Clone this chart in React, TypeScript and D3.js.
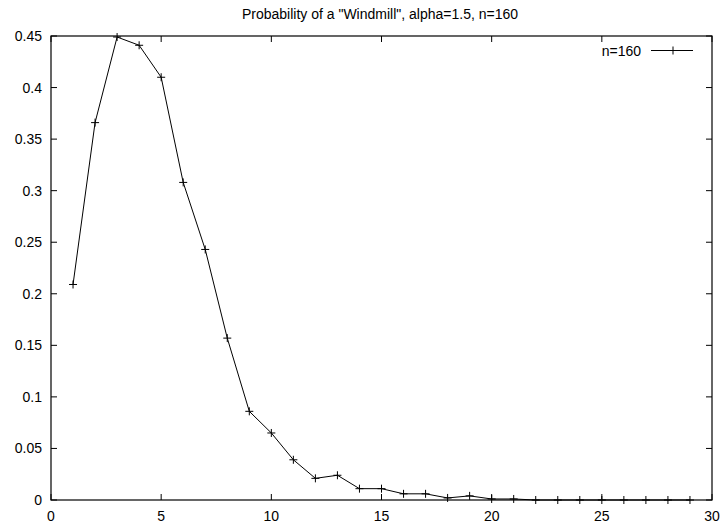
import React from "react";
import * as d3 from "d3";

const xs = [1,2,3,4,5,6,7,8,9,10,11,12,13,14,15,16,17,18,19,20,21,22,23,24,25,26,27,28,29];
const ys = [0.209,0.366,0.449,0.441,0.410,0.308,0.243,0.157,0.086,0.065,0.039,0.021,0.024,0.011,0.011,0.006,0.006,0.002,0.004,0.001,0.001,0,0,0,0,0,0,0,0];
const xTicks = [0,5,10,15,20,25,30];
const yTicks = [0,0.05,0.1,0.15,0.2,0.25,0.3,0.35,0.4,0.45];
const title = 'Probability of a "Windmill", alpha=1.5, n=160';
const seriesName = "n=160";

export default function App() {
  const W = 722, H = 525;
  const L = 51, R = 712, T = 36, B = 500;
  const x = d3.scaleLinear().domain([0, 30]).range([L, R]);
  const y = d3.scaleLinear().domain([0, 0.45]).range([B, T]);
  const line = d3.line<number>().x((_, i) => x(xs[i])).y((d) => y(d));
  const tl = 6;
  const fs = 14;
  const font = "'Liberation Sans', Arial, sans-serif";
  const cross = (cx: number, cy: number, k: string) => (
    <path key={k} d={`M${cx - 4},${cy}H${cx + 4}M${cx},${cy - 4}V${cy + 4}`} stroke="#000" strokeWidth={1} />
  );
  return (
    <svg width={W} height={H} style={{ position: "absolute", left: 0, top: 0, background: "#fff" }} fontFamily={font}>
      <rect width={W} height={H} fill="#fff" />
      <text x={380} y={18.5} textAnchor="middle" fontSize={fs}>{title}</text>
      {yTicks.map((t) => (
        <g key={"y" + t}>
          <line x1={L} x2={L + tl} y1={y(t)} y2={y(t)} stroke="#000" />
          <line x1={R} x2={R - tl} y1={y(t)} y2={y(t)} stroke="#000" />
          <text x={42} y={y(t) + 5} textAnchor="end" fontSize={fs}>{t === 0 ? "0" : String(t)}</text>
        </g>
      ))}
      {xTicks.map((t) => (
        <g key={"x" + t}>
          <line x1={x(t)} x2={x(t)} y1={B} y2={B - tl} stroke="#000" />
          <line x1={x(t)} x2={x(t)} y1={T} y2={T + tl} stroke="#000" />
          <text x={x(t)} y={B + 21} textAnchor="middle" fontSize={fs}>{t}</text>
        </g>
      ))}
      <rect x={L} y={T} width={R - L} height={B - T} fill="none" stroke="#000" strokeWidth={1.2} />
      <path d={line(ys) || ""} fill="none" stroke="#000" strokeWidth={1} />
      {ys.map((v, i) => cross(x(xs[i]), y(v), "c" + i))}
      <text x={641} y={56} textAnchor="end" fontSize={fs}>{seriesName}</text>
      <line x1={651} x2={693} y1={50.5} y2={50.5} stroke="#000" />
      {cross(673, 50.5, "lg")}
    </svg>
  );
}
